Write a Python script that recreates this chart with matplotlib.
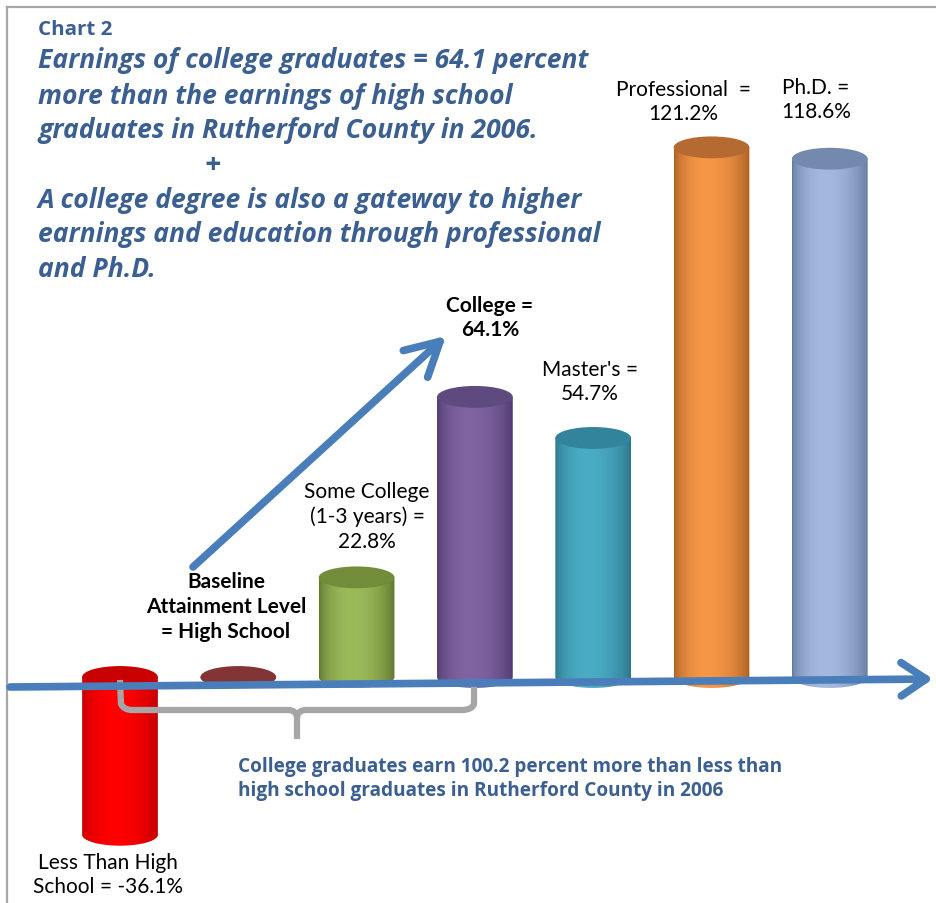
import numpy as np
import matplotlib
matplotlib.use('Agg')
import matplotlib.pyplot as plt
from matplotlib.patches import Ellipse, PathPatch
from matplotlib.path import Path
from matplotlib.colors import to_rgb

# Earnings relative to high school graduates, Rutherford County 2006
categories = ['Less Than High School', 'High School', 'Some College', 'College',
              "Master's", 'Professional', 'Ph.D.']
pct_diff = [-36.1, 0.0, 22.8, 64.1, 54.7, 121.2, 118.6]

# side colour (edges), highlight colour (centre) and cap colour per cylinder
side_cols = ['#C00000', '#7A2E2C', '#5F7530', '#4F3A6E', '#2B7488', '#A85F22', '#64799E']
light_cols = ['#FF0000', '#8C3A38', '#9BBB59', '#8064A2', '#4BACC6', '#F79646', '#A5B9DE']
cap_cols = ['#C80000', '#823534', '#728C3A', '#5E4A7E', '#31849B', '#B46A30', '#7489AE']

label_texts = ['Less Than High\nSchool = -36.1%',
               'Baseline\nAttainment Level\n= High School',
               'Some College\n(1-3 years) =\n22.8%',
               'College =\n64.1%',
               "Master's =\n54.7%",
               'Professional  =\n121.2%',
               'Ph.D. =\n118.6%']

heading_lines = ['Earnings of college graduates = 64.1 percent',
                 'more than the earnings of high school',
                 'graduates in Rutherford County in 2006.',
                 'A college degree is also a gateway to higher',
                 'earnings and education through professional',
                 'and Ph.D.']
footer_text = ('College graduates earn 100.2 percent more than less than\n'
               'high school graduates in Rutherford County in 2006')

blue_txt = '#3B5F91'
arrow_blue = '#4A7EBB'

W, H = 936, 904
fig = plt.figure(figsize=(W / 100, H / 100), dpi=100)
renderer = fig.canvas.get_renderer()

# main axes: x = category index, y = percent
ax = fig.add_axes([0, 0, 1, 1])
ax.axis('off')

bar_w = 0.64
cap_h = 5.0


def shade(light, dark, n=120):
    t = np.linspace(0, 1, n)
    # brightest a little left of centre, darker toward both edges
    w = np.clip(np.sin(np.pi * t ** 0.85), 0, 1) ** 0.7
    l = np.array(to_rgb(light))
    d = np.array(to_rgb(dark))
    g = d[None, :] * (1 - w[:, None]) + l[None, :] * w[:, None]
    return g[None, :, :]


def cylinder(x, v, light, dark, cap):
    lo, hi = min(0.0, v), max(0.0, v)
    th = np.linspace(np.pi, 2 * np.pi, 60)
    bx = x + bar_w / 2 * np.cos(th)
    by = lo + cap_h / 2 * np.sin(th)
    verts = [(x - bar_w / 2, hi)] + list(zip(bx, by)) + [(x + bar_w / 2, hi), (x - bar_w / 2, hi)]
    codes = [Path.MOVETO] + [Path.LINETO] * (len(verts) - 2) + [Path.CLOSEPOLY]
    body = PathPatch(Path(verts, codes), facecolor='none', edgecolor='none')
    ax.add_patch(body)
    im = ax.imshow(shade(light, dark), extent=[x - bar_w / 2, x + bar_w / 2, lo - cap_h / 2, hi],
                   aspect='auto', zorder=2, interpolation='bilinear')
    im.set_clip_path(body)
    ax.add_patch(Ellipse((x, hi), bar_w, cap_h, facecolor=cap, edgecolor='none', zorder=3))


for i, v in enumerate(pct_diff):
    cylinder(i, v, light_cols[i], side_cols[i], cap_cols[i])

ax.set_xlim(-120 / 118.3, (W - 120) / 118.3)
ax.set_ylim(-(H - 678) / 4.37, 678 / 4.37)

# overlay in pixel units for annotations
deco = fig.add_axes([0, 0, 1, 1])
deco.set_xlim(0, W)
deco.set_ylim(H, 0)
deco.axis('off')
deco.patch.set_alpha(0)


def fit_width(txt_obj, target):
    # scale the font so the text spans the given pixel width
    w = txt_obj.get_window_extent(renderer).width
    txt_obj.set_fontsize(txt_obj.get_fontsize() * target / w)


# frame lines
deco.plot([7, 7], [8, H], color='#A6A6A6', lw=1.6)
deco.plot([7, W], [8, 8], color='#A6A6A6', lw=1.6)

# baseline arrow
deco.annotate('', xy=(933, 680), xytext=(10, 688),
              arrowprops=dict(arrowstyle='->,head_length=0.9,head_width=0.6', lw=5.5,
                              color=arrow_blue, mutation_scale=20, shrinkA=0, shrinkB=0,
                              capstyle='round', joinstyle='round'))
# rising arrow toward college
deco.annotate('', xy=(446, 337), xytext=(193, 568),
              arrowprops=dict(arrowstyle='->,head_length=1.2,head_width=0.65', lw=5.5,
                              color=arrow_blue, mutation_scale=20, shrinkA=0, shrinkB=0,
                              capstyle='round', joinstyle='round'))

# bracket under less-than-high-school .. college
bverts = [(120, 681), (121, 705), (124, 711), (132, 711),
          (288, 711), (296, 711), (297, 718), (297, 740),
          (297, 718), (298, 711), (306, 711),
          (462, 711), (472, 711), (474, 705), (474, 681)]
bcodes = [Path.MOVETO, Path.LINETO, Path.CURVE3, Path.CURVE3,
          Path.LINETO, Path.CURVE3, Path.CURVE3, Path.LINETO,
          Path.MOVETO, Path.CURVE3, Path.CURVE3,
          Path.LINETO, Path.CURVE3, Path.CURVE3, Path.LINETO]
deco.add_patch(PathPatch(Path(bverts, bcodes), facecolor='none', edgecolor='#A6A6A6',
                         lw=4.5, capstyle='butt', joinstyle='round'))

# heading block
hfont = dict(family='Open Sans', weight='bold', style='italic', color=blue_txt)
chart_no = deco.text(38, 30, 'Chart 2', fontsize=16, family='Open Sans', weight='bold',
                     color=blue_txt, va='center', ha='left')
fit_width(chart_no, 74)
head_y = [61, 96, 131, 200, 235, 270]
heads = [deco.text(38, y, txt, fontsize=17, va='center', ha='left', **hfont)
         for txt, y in zip(heading_lines, head_y)]
fit_width(heads[0], 550)
for t in heads[1:]:
    t.set_fontsize(heads[0].get_fontsize())
deco.text(213, 165, '+', fontsize=heads[0].get_fontsize() + 2, va='center', ha='center', **hfont)

# category labels
label_pos = [(108, 875), (226, 607), (367, 517), (490, 318), (590, 382), (683, 102), (816, 100)]
for i, (txt, (x, y)) in enumerate(zip(label_texts, label_pos)):
    bold = i in (1, 3)
    deco.text(x, y, txt, fontsize=15, family='Lato', weight='bold' if bold else 'normal',
              color='black', ha='center', va='center', linespacing=1.3)

foot = deco.text(238, 779, footer_text, fontsize=12.5, family='Open Sans', weight='bold',
                 color=blue_txt, ha='left', va='center', linespacing=1.3)
fit_width(foot, 546)

fig.savefig('out.png', dpi=100)
